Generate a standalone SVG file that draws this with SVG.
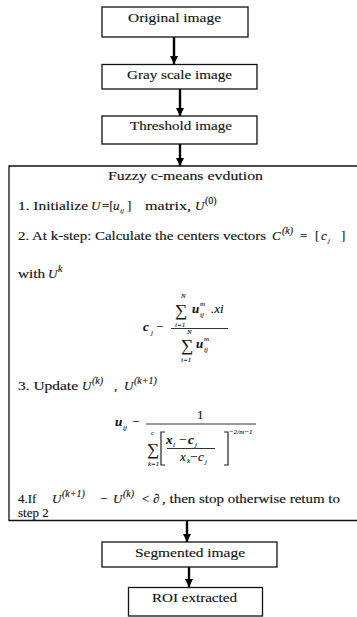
<svg xmlns="http://www.w3.org/2000/svg" width="357" height="617" viewBox="0 0 357 617">
<style>
text{font-family:"Liberation Serif","Times New Roman","DejaVu Serif",serif;fill:#141414;font-size:13px;stroke:#141414;stroke-width:0.15}
.box{fill:#fff;stroke:#111;stroke-width:1.3}
.it{font-style:italic}
.sm{font-size:10px}
.xs{font-size:7px;stroke-width:0.1}
.big{font-size:17px}
.conn line{stroke:#000;stroke-width:2.4}
</style>
<defs>
<marker id="ah" viewBox="0 0 10 10" refX="10" refY="5" markerWidth="9" markerHeight="8" orient="auto" markerUnits="userSpaceOnUse">
<path d="M0,0 L10,5 L0,10 z" fill="#000"/>
</marker>
</defs>
<rect width="357" height="617" fill="#fff"/>

<g id="conn" class="conn">
<line x1="174" y1="37" x2="174" y2="64" marker-end="url(#ah)"/>
<line x1="180" y1="89" x2="180" y2="116" marker-end="url(#ah)"/>
<line x1="180" y1="144" x2="180" y2="166" marker-end="url(#ah)"/>
<line x1="187" y1="521" x2="187" y2="542" marker-end="url(#ah)"/>
<line x1="189" y1="567" x2="189" y2="587" marker-end="url(#ah)"/>
</g>

<g id="original">
<rect class="box" x="102" y="7" width="146" height="30"/>
<text x="128" y="22" textLength="93" lengthAdjust="spacingAndGlyphs">Original image</text>
</g>

<g id="grayscale">
<rect class="box" x="102" y="64.5" width="155" height="24.5"/>
<text x="127" y="79" textLength="105" lengthAdjust="spacingAndGlyphs">Gray scale image</text>
</g>

<g id="threshold">
<rect class="box" x="102" y="116" width="155" height="28"/>
<text x="130" y="130" textLength="102" lengthAdjust="spacingAndGlyphs">Threshold image</text>
</g>

<g id="fcm">
<path d="M358,166 H9 V520.5 H358" fill="none" stroke="#111" stroke-width="1.3"/>
<text x="108" y="180" textLength="155" lengthAdjust="spacingAndGlyphs">Fuzzy c-means evdution</text>

<text x="18" y="210" textLength="70" lengthAdjust="spacingAndGlyphs">1. Initialize</text>
<text class="it" x="91" y="210" font-size="14">U</text>
<text x="102" y="210">=[</text>
<text class="it" x="113" y="210" font-size="14">u</text>
<text class="it xs" x="120" y="213">ij</text>
<text x="127" y="210">]</text>
<text x="145" y="210" textLength="46" lengthAdjust="spacingAndGlyphs">matrix,</text>
<text class="it" x="195" y="210" font-size="14">U</text>
<text class="sm" x="205" y="204">(0)</text>

<text x="18" y="240" textLength="248" lengthAdjust="spacingAndGlyphs">2. At k-step: Calculate the centers vectors</text>
<text class="it" x="272" y="240" font-size="14">C</text>
<text class="it sm" x="282" y="234">(k)</text>
<text x="300" y="240">=</text>
<text x="315" y="240">[</text>
<text class="it" x="321" y="240" font-size="14">c</text>
<text class="it xs" x="328" y="243">j</text>
<text x="341" y="240">]</text>

<text x="18" y="278" textLength="27" lengthAdjust="spacingAndGlyphs">with</text>
<text class="it" x="48" y="278" font-size="14">U</text>
<text class="it sm" x="58" y="272">k</text>

<text class="it xs" x="181" y="298">N</text>
<text class="big" x="175" y="316">∑</text>
<text class="it xs" x="175" y="327">i=1</text>
<text class="it" x="192" y="313" font-size="14" font-weight="bold">u</text>
<text class="it xs" x="200" y="306">m</text>
<text class="it xs" x="200" y="317">ij</text>
<text class="it" x="211" y="313" font-size="13">.xi</text>
<text class="it" x="143" y="331" font-size="14" font-weight="bold">c</text>
<text class="it xs" x="151" y="335">j</text>
<text x="156" y="331">−</text>
<line x1="171" y1="328.5" x2="228" y2="328.5" stroke="#333" stroke-width="1.2"/>
<text class="it xs" x="187" y="334">N</text>
<text class="big" x="181" y="351">∑</text>
<text class="it xs" x="181" y="362">i=1</text>
<text class="it" x="196" y="348" font-size="14" font-weight="bold">u</text>
<text class="it xs" x="204" y="341">m</text>
<text class="it xs" x="204" y="352">ij</text>

<text x="18" y="390" textLength="60" lengthAdjust="spacingAndGlyphs">3. Update</text>
<text class="it" x="82" y="390" font-size="14">U</text>
<text class="it sm" x="92" y="384">(k)</text>
<text x="114" y="390">,</text>
<text class="it" x="124" y="390" font-size="14">U</text>
<text class="it sm" x="134" y="384">(k+1)</text>

<text class="it" x="115" y="426" font-size="14" font-weight="bold">u</text>
<text class="it xs" x="123" y="430">ij</text>
<text x="132" y="426">−</text>
<text x="197" y="419" font-size="14">1</text>
<line x1="146" y1="424" x2="256" y2="424" stroke="#333" stroke-width="1.1"/>
<text class="it xs" x="151" y="435">c</text>
<text class="big" x="147" y="455">∑</text>
<text class="it xs" x="148" y="466">k=1</text>
<path d="M165,432 H161 V465 H165 M224,432 H228 V465 H224" fill="none" stroke="#222" stroke-width="1.2"/>
<text class="it" x="166" y="444" font-size="14" font-weight="bold">x</text>
<text class="it xs" x="173" y="447">i</text>
<text x="179" y="444">−</text>
<text class="it" x="188" y="444" font-size="14" font-weight="bold">c</text>
<text class="it xs" x="195" y="447">j</text>
<line x1="167" y1="448.5" x2="215" y2="448.5" stroke="#333" stroke-width="1"/>
<text class="it" x="180" y="461" font-size="13">x</text>
<text class="it xs" x="187" y="463">k</text>
<text x="190" y="461">−</text>
<text class="it" x="198" y="461" font-size="13">c</text>
<text class="it xs" x="205" y="464">j</text>
<text class="it xs" x="229" y="434">−2/m−1</text>

<text x="18" y="503">4.If</text>
<text class="it" x="52" y="503" font-size="14">U</text>
<text class="it sm" x="62" y="497">(k+1)</text>
<text x="100" y="503">−</text>
<text class="it" x="113" y="503" font-size="14">U</text>
<text class="it sm" x="123" y="497">(k)</text>
<text x="142" y="503">&lt;</text>
<text class="it" x="153" y="503">∂</text>
<text x="162" y="503" textLength="178" lengthAdjust="spacingAndGlyphs">, then stop otherwise retum to</text>
<text x="18" y="517" font-size="12">step 2</text>
</g>

<g id="segmented">
<rect class="box" x="102" y="542" width="175" height="25"/>
<text x="135" y="557" textLength="110" lengthAdjust="spacingAndGlyphs">Segmented image</text>
</g>

<g id="roi">
<rect class="box" x="128.5" y="587.5" width="134" height="28.5"/>
<text x="152" y="602" textLength="85" lengthAdjust="spacingAndGlyphs">ROI extracted</text>
</g>
</svg>
